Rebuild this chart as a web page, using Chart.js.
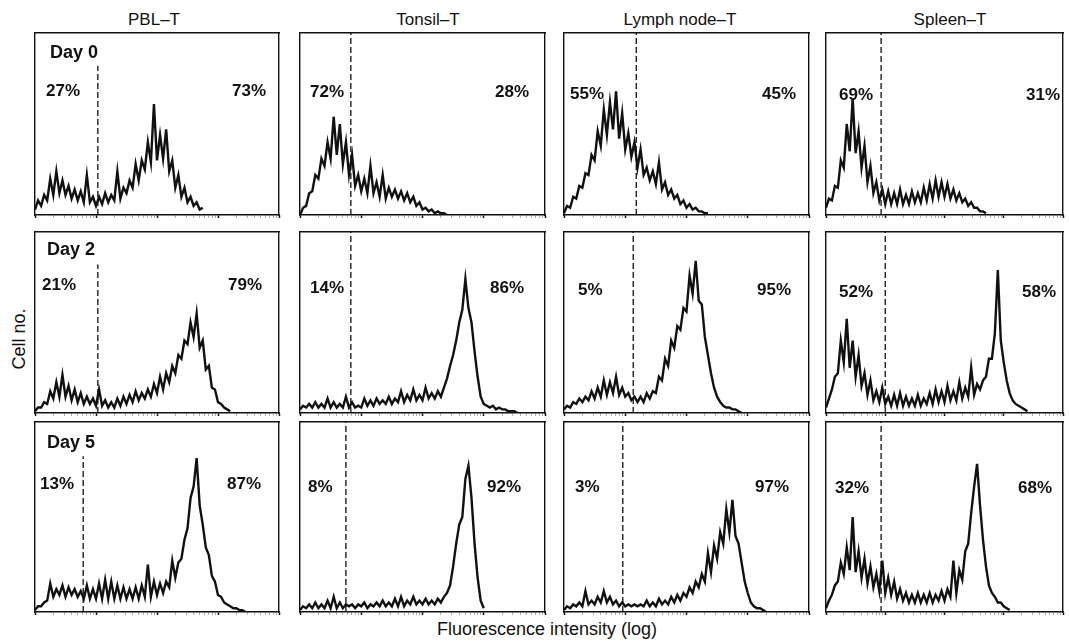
<!DOCTYPE html>
<html>
<head>
<meta charset="utf-8">
<script src="https://cdn.jsdelivr.net/npm/chart.js@4.4.1/dist/chart.umd.min.js"></script>
<style>
  html, body { margin: 0; padding: 0; background: #fff; }
  #fig { position: relative; width: 1069px; height: 641px; background: #fff; overflow: hidden;
         font-family: "Liberation Sans", Arial, Helvetica, sans-serif; color: #111; }
  #fig canvas { position: absolute; }
  .lbl { position: absolute; line-height: 1; white-space: nowrap; transform: translateY(-50%); }
  .title { font-size: 17px; transform: translate(-50%, -50%); }
  .day { font-size: 18px; font-weight: bold; }
  .pct { font-size: 17px; font-weight: bold; }
  .axis { font-size: 18px; }
</style>
</head>
<body>
<div id="fig"></div>
<script>
// Flow cytometry histograms: 4 tissue sources x 3 time points.
// x = fluorescence, in log decades (0..4); y = cell count, % of panel height.
const COLUMNS = ['PBL–T', 'Tonsil–T', 'Lymph node–T', 'Spleen–T'];
const DAYS = ['Day 0', 'Day 2', 'Day 5'];
const BIN = 0.05; // decades per channel bin

// Day 0
const pblD0 = [3,8,5,11,8,20,11,24,12,19,11,16,9,14,8,13,7,22,7,10,5,10,6,12,7,11,8,24,9,15,12,19,15,28,19,30,25,40,29,61,30,44,31,47,24,30,15,22,10,15,7,10,5,7,3,4];
const tonD0 = [0,4,5,12,13,22,20,31,27,40,31,54,33,50,28,40,22,33,16,22,13,20,12,27,12,18,10,22,9,15,10,14,9,13,8,12,7,10,5,7,3,4,2,3,1,2,1,1,0];
const lymD0 = [1,5,4,10,9,16,15,23,22,33,30,46,38,58,44,62,47,68,42,56,36,45,32,40,26,36,22,26,19,24,17,29,14,18,11,14,9,11,6,8,4,6,3,4,2,2,1,1];
const splD0 = [4,9,8,16,15,30,26,50,35,64,34,46,26,38,18,27,12,18,8,14,6,13,6,12,6,14,6,11,6,13,7,12,7,15,8,17,9,19,10,18,10,17,9,14,8,12,7,9,5,7,4,4,2,2,1];
// Day 2
const pblD2 = [1,3,3,6,5,12,8,17,9,21,9,15,7,13,6,11,5,9,5,8,4,13,4,7,3,6,3,8,4,9,5,10,6,12,7,11,8,13,9,16,11,20,13,22,17,26,22,32,30,40,38,50,42,55,36,40,24,26,14,13,6,5,3,2,1];
const tonD2 = [2,4,3,5,3,6,3,5,3,8,3,6,3,5,3,9,3,6,3,4,3,8,4,7,4,8,5,7,5,9,5,8,6,12,6,10,7,13,7,10,7,14,8,11,8,12,9,14,19,26,32,40,50,57,74,58,50,34,20,9,5,4,3,4,2,3,2,2,1,1,1,0];
const lymD2 = [2,4,3,6,5,8,6,9,7,12,8,14,9,18,10,17,11,20,10,14,9,11,7,9,6,9,6,11,8,12,11,20,18,30,26,40,36,48,46,58,56,76,66,84,62,60,42,32,22,14,9,6,4,3,3,2,2,1,0];
const splD2 = [3,8,13,20,22,40,28,52,25,40,20,32,15,22,10,18,7,12,6,14,5,9,4,10,4,11,4,9,4,8,4,10,4,8,5,11,5,13,6,12,6,15,7,12,7,17,8,14,9,25,10,16,13,18,20,30,30,44,79,40,28,18,11,7,5,4,3,2,1];
// Day 5
const pblD5 = [1,3,3,5,6,15,8,12,9,14,8,13,9,12,8,11,7,14,7,12,7,15,7,17,7,16,7,14,7,13,7,12,7,13,7,14,8,25,8,16,9,15,10,16,13,27,18,26,28,38,44,60,66,81,56,46,34,30,19,16,9,8,5,4,3,2,2,1,1,0];
const tonD5 = [1,3,2,4,2,5,2,4,2,6,2,8,2,5,2,4,3,4,2,4,3,5,2,4,3,5,3,6,3,5,3,7,3,8,3,6,4,8,4,6,4,7,4,6,4,7,5,8,10,14,24,36,46,50,70,77,60,36,18,6,2];
const lymD5 = [1,3,2,4,3,5,3,11,4,6,4,8,5,11,5,8,4,6,3,5,3,4,3,4,3,4,3,6,3,5,3,7,4,6,4,8,5,9,6,10,8,13,10,16,13,20,16,31,21,35,28,42,36,54,42,59,40,36,26,16,10,5,3,2,2,1,0];
const splD5 = [2,6,9,14,16,26,20,34,22,50,21,32,18,28,15,24,13,20,11,27,10,18,9,16,7,12,6,10,5,9,5,10,5,9,5,10,5,9,6,11,6,12,8,27,10,22,17,32,36,52,66,78,56,38,24,14,10,8,5,5,3,2,1];

const HIST = [
  [pblD0, tonD0, lymD0, splD0],
  [pblD2, tonD2, lymD2, splD2],
  [pblD5, tonD5, lymD5, splD5],
];
// gate (dashed marker) position, decades
const GATE = [
  [1.03, 0.83, 1.18, 0.93],
  [1.03, 0.83, 1.13, 1.00],
  [0.79, 0.75, 0.96, 0.93],
];
const PCT_BELOW = [
  ['27%', '72%', '55%', '69%'],
  ['21%', '14%', '5%', '52%'],
  ['13%', '8%', '3%', '32%'],
];
const PCT_ABOVE = [
  ['73%', '28%', '45%', '31%'],
  ['79%', '86%', '95%', '58%'],
  ['87%', '92%', '97%', '68%'],
];

// ---- layout (page pixels) ----
const COL_X = [[35, 279], [300, 545], [564, 809], [826, 1063]];
const ROW_Y = [[33, 215], [232, 413], [422, 612]];
const TITLE_X = [154, 428, 680, 950];
const DAY_POS = [[50, 52], [47, 249], [47, 442]];
// [left label x, right label x, centre y]
const PCT_POS = [
  [[46, 232, 90], [310, 495, 91], [570, 762, 93], [839, 1026, 94]],
  [[42, 228, 284], [310, 490, 287], [578, 757, 289], [839, 1022, 291]],
  [[40, 227, 483], [308, 487, 486], [575, 755, 486], [835, 1018, 487]],
];
const INK = '#111';

const fig = document.getElementById('fig');

function addText(cls, text, x, y) {
  const d = document.createElement('div');
  d.className = 'lbl ' + cls;
  d.textContent = text;
  d.style.left = x + 'px';
  d.style.top = y + 'px';
  fig.appendChild(d);
  return d;
}

function logTicks(scale) {
  const t = [];
  for (let d = 0; d < 4; d++) {
    for (let k = 1; k < 10; k++) t.push({ value: d + Math.log10(k) });
  }
  t.push({ value: 4 });
  scale.ticks = t;
}

const isMajor = (ctx) => Number.isInteger(ctx.tick && ctx.tick.value);

const frameAxis = (position, axis) => ({
  axis,
  type: 'linear',
  position,
  min: 0,
  max: axis === 'x' ? 4 : 100,
  ticks: { display: false },
  grid: { display: false, drawTicks: false },
  border: { display: true, color: INK, width: 1.4 },
});

function makePanel(r, c) {
  const [x0, x1] = COL_X[c];
  const [y0, y1] = ROW_Y[r];
  const pad = 2, tick = 3;
  const cv = document.createElement('canvas');
  cv.width = x1 - x0 + pad * 2;
  cv.height = y1 - y0 + pad * 2 + tick;
  cv.style.left = (x0 - pad) + 'px';
  cv.style.top = (y0 - pad) + 'px';
  fig.appendChild(cv);

  const counts = HIST[r][c];
  const gate = GATE[r][c];
  // the first column's marker stops under the "Day" label
  const gateTop = c === 0 ? 82 : 100;

  new Chart(cv, {
    type: 'line',
    data: {
      datasets: [
        {
          data: counts.map((y, i) => ({ x: i * BIN, y })),
          borderColor: INK,
          borderWidth: 2.4,
          pointRadius: 0,
          tension: 0,
        },
        {
          data: [{ x: gate, y: 0 }, { x: gate, y: gateTop }],
          borderColor: INK,
          borderWidth: 1.3,
          borderDash: [6, 3],
          pointRadius: 0,
        },
      ],
    },
    options: {
      responsive: false,
      animation: false,
      events: [],
      layout: { padding: { left: pad, right: pad, top: pad, bottom: pad } },
      plugins: { legend: { display: false }, tooltip: { enabled: false } },
      scales: {
        x: {
          type: 'linear',
          min: 0,
          max: 4,
          afterBuildTicks: logTicks,
          ticks: { display: false },
          grid: {
            drawOnChartArea: false,
            drawTicks: true,
            tickLength: tick,
            color: INK,
            tickColor: (ctx) => (isMajor(ctx) ? INK : '#777'),
            tickWidth: (ctx) => (isMajor(ctx) ? 1.5 : 0.6),
          },
          border: { display: true, color: INK, width: 1.4 },
        },
        y: {
          type: 'linear',
          position: 'left',
          min: 0,
          max: 100,
          ticks: { display: false },
          grid: { display: false, drawTicks: false },
          border: { display: true, color: INK, width: 1.4 },
        },
        yRight: frameAxis('right', 'y'),
        xTop: frameAxis('top', 'x'),
      },
    },
  });

  const [lx, rx, cy] = PCT_POS[r][c];
  addText('pct', PCT_BELOW[r][c], lx, cy);
  addText('pct', PCT_ABOVE[r][c], rx, cy);
}

for (let r = 0; r < 3; r++) {
  for (let c = 0; c < 4; c++) makePanel(r, c);
}

COLUMNS.forEach((name, c) => addText('title', name, TITLE_X[c], 19));
DAYS.forEach((name, r) => addText('day', name, DAY_POS[r][0], DAY_POS[r][1]));

const yl = addText('axis', 'Cell no.', 19, 339);
yl.style.transform = 'translate(-50%, -50%) rotate(-90deg)';
const xl = addText('axis', 'Fluorescence intensity (log)', 547, 629);
xl.style.transform = 'translate(-50%, -50%)';
</script>
</body>
</html>
